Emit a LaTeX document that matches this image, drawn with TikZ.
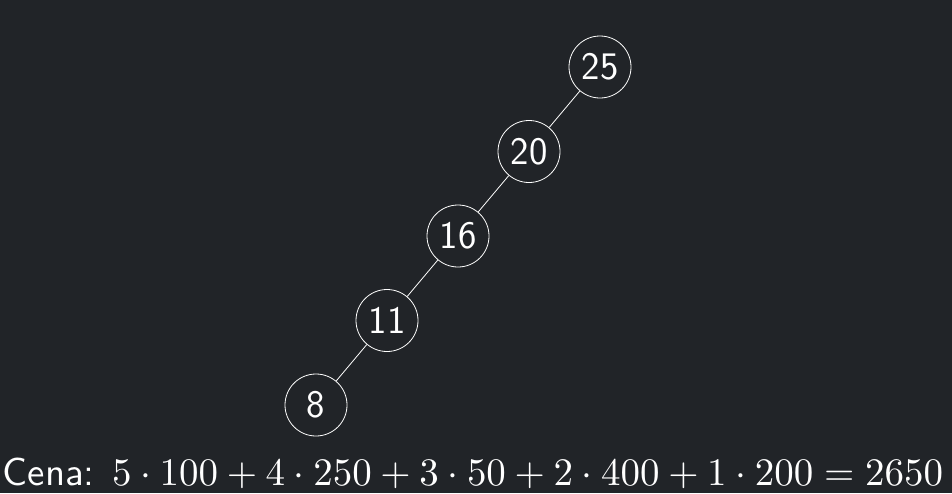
\documentclass[tikz,border=0pt]{standalone}
\usepackage{fontspec}
\usepackage{tikz}
\usetikzlibrary{positioning}
\definecolor{bg}{RGB}{33,36,40}

\begin{document}
\begin{tikzpicture} [x=1pt, y=-1pt, white, line width=0.8pt, on grid,
        main/.style = {draw, circle, minimum size=62pt, inner sep=0pt,
            font=\sffamily\fontsize{39}{42}\selectfont}]
        \fill[bg] (0,0) rectangle (952,493);
        \useasboundingbox (0,0) rectangle (952,493);
        %Knoten
        \node[main] (n25) at (600,67) {25};
        \node[main] (n20) [below left = 84.5pt and 71pt of n25] {20};
        \node[main] (n16) [below left = 84.5pt and 71pt of n20] {16};
        \node[main] (n11) [below left = 84.5pt and 71pt of n16] {11};
        \node[main] (n8) [below left = 84.5pt and 71pt of n11] {8};

        \node (cena) [anchor=base, inner sep=0pt] at (473,485)
            {\resizebox{940pt}{!}{\textsf{Cena:} $5\cdot100+4\cdot250+3\cdot50+2\cdot400+1\cdot200=2650$}};

        %Kanten
        \draw (n25) -- (n20);
        \draw (n20) -- (n16);
        \draw (n16) -- (n11);
        \draw (n11) -- (n8);
    \end{tikzpicture}
\end{document}
